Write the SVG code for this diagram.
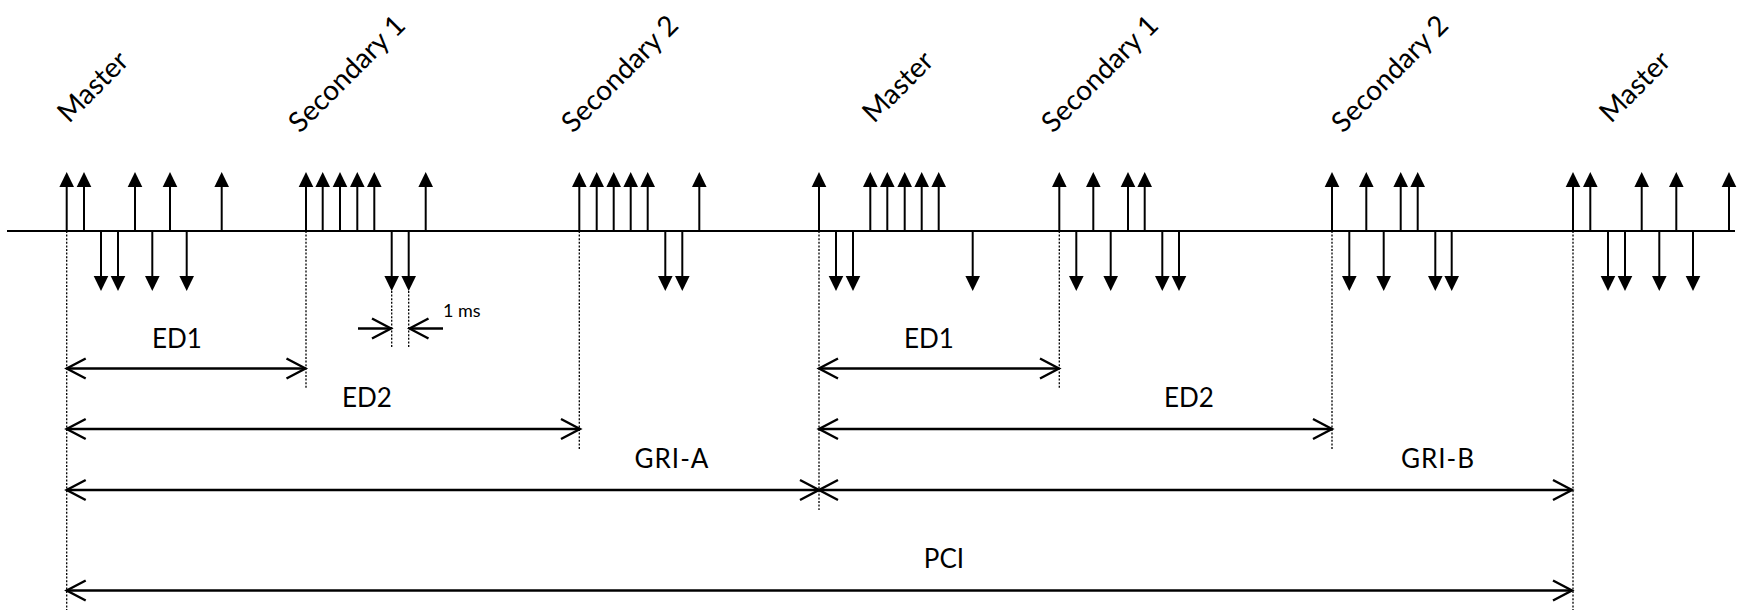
<svg xmlns="http://www.w3.org/2000/svg" xmlns:xlink="http://www.w3.org/1999/xlink" width="1742" height="612" viewBox="0 0 1742 612">
<style>
.axis{stroke:#000;stroke-width:2;fill:none}
.dot{stroke:#000;stroke-width:1.3;stroke-dasharray:2 1.6;fill:none}
.dim{stroke:#000;stroke-width:2.4;fill:none;marker-start:url(#open);marker-end:url(#open)}
.one{stroke:#000;stroke-width:2.4;fill:none;marker-end:url(#open)}
.lbl{font-family:Lato,"Liberation Sans",sans-serif;font-size:26px;fill:#000}
.st{font-family:Lato,"Liberation Sans",sans-serif;font-size:28px;fill:#000}
.sm{font-family:Lato,"Liberation Sans",sans-serif;font-size:18px;fill:#000}
</style>
<defs>
<marker id="open" markerUnits="userSpaceOnUse" markerWidth="24" markerHeight="24" viewBox="-2 -2 24 24" refX="19" refY="10" orient="auto-start-reverse">
<path d="M0,0 L19,10 L0,20" fill="none" stroke="#000" stroke-width="2.4"/>
</marker>
<g id="up"><line x1="0" y1="231" x2="0" y2="186" stroke="#000" stroke-width="2"/><polygon points="0,172 -7.3,187 7.3,187" fill="#000"/></g>
<g id="dn"><line x1="0" y1="231" x2="0" y2="277" stroke="#000" stroke-width="2"/><polygon points="0,291 -7.3,276 7.3,276" fill="#000"/></g>
</defs>
<rect width="1742" height="612" fill="#fff"/>

<g id="labels">
<text class="st" transform="translate(69,124) rotate(-45)">Master</text>
<text class="st" transform="translate(300,134) rotate(-45)">Secondary 1</text>
<text class="st" transform="translate(573,134) rotate(-45)">Secondary 2</text>
<text class="st" transform="translate(874,124) rotate(-45)">Master</text>
<text class="st" transform="translate(1053,134) rotate(-45)">Secondary 1</text>
<text class="st" transform="translate(1343,134) rotate(-45)">Secondary 2</text>
<text class="st" transform="translate(1611,124) rotate(-45)">Master</text>
</g>

<g id="dotted">
<line class="dot" x1="66.7" y1="231" x2="66.7" y2="610"/>
<line class="dot" x1="306" y1="231" x2="306" y2="388"/>
<line class="dot" x1="579.3" y1="231" x2="579.3" y2="449"/>
<line class="dot" x1="819" y1="231" x2="819" y2="510"/>
<line class="dot" x1="1059.3" y1="231" x2="1059.3" y2="388"/>
<line class="dot" x1="1332" y1="231" x2="1332" y2="449"/>
<line class="dot" x1="1573" y1="231" x2="1573" y2="610"/>
<line class="dot" x1="391.7" y1="291" x2="391.7" y2="348"/>
<line class="dot" x1="408.7" y1="291" x2="408.7" y2="348"/>
</g>

<g id="axis"><line class="axis" x1="7" y1="231" x2="1735" y2="231"/></g>

<g id="master1">
<use xlink:href="#up" x="66.7"/><use xlink:href="#up" x="84"/><use xlink:href="#up" x="135"/><use xlink:href="#up" x="170"/><use xlink:href="#up" x="221.7"/>
<use xlink:href="#dn" x="101"/><use xlink:href="#dn" x="118"/><use xlink:href="#dn" x="152.3"/><use xlink:href="#dn" x="186.7"/>
</g>
<g id="secondary1">
<use xlink:href="#up" x="306"/><use xlink:href="#up" x="322.7"/><use xlink:href="#up" x="340"/><use xlink:href="#up" x="357.3"/><use xlink:href="#up" x="374.3"/><use xlink:href="#up" x="425.7"/>
<use xlink:href="#dn" x="391.7"/><use xlink:href="#dn" x="408.7"/>
</g>
<g id="secondary2">
<use xlink:href="#up" x="579.3"/><use xlink:href="#up" x="596.7"/><use xlink:href="#up" x="613.7"/><use xlink:href="#up" x="630.7"/><use xlink:href="#up" x="647.7"/><use xlink:href="#up" x="699.3"/>
<use xlink:href="#dn" x="665.3"/><use xlink:href="#dn" x="682.3"/>
</g>
<g id="master2">
<use xlink:href="#up" x="819"/><use xlink:href="#up" x="870.3"/><use xlink:href="#up" x="887.3"/><use xlink:href="#up" x="904.7"/><use xlink:href="#up" x="921.7"/><use xlink:href="#up" x="938.7"/>
<use xlink:href="#dn" x="836"/><use xlink:href="#dn" x="853"/><use xlink:href="#dn" x="972.7"/>
</g>
<g id="secondary1b">
<use xlink:href="#up" x="1059.3"/><use xlink:href="#up" x="1093.3"/><use xlink:href="#up" x="1128"/><use xlink:href="#up" x="1144.7"/>
<use xlink:href="#dn" x="1076.3"/><use xlink:href="#dn" x="1110.7"/><use xlink:href="#dn" x="1162.3"/><use xlink:href="#dn" x="1179"/>
</g>
<g id="secondary2b">
<use xlink:href="#up" x="1332"/><use xlink:href="#up" x="1366.3"/><use xlink:href="#up" x="1400.7"/><use xlink:href="#up" x="1417.7"/>
<use xlink:href="#dn" x="1349.3"/><use xlink:href="#dn" x="1383.7"/><use xlink:href="#dn" x="1435.3"/><use xlink:href="#dn" x="1451.7"/>
</g>
<g id="master3">
<use xlink:href="#up" x="1573"/><use xlink:href="#up" x="1590.3"/><use xlink:href="#up" x="1641.7"/><use xlink:href="#up" x="1676.3"/><use xlink:href="#up" x="1729"/>
<use xlink:href="#dn" x="1608"/><use xlink:href="#dn" x="1625"/><use xlink:href="#dn" x="1659.3"/><use xlink:href="#dn" x="1693"/>
</g>

<g id="connectors">
<line class="one" x1="358" y1="328.5" x2="391" y2="328.5"/>
<line class="one" x1="443" y1="328.5" x2="409.5" y2="328.5"/>
<line class="dim" x1="66.7" y1="368.5" x2="305.5" y2="368.5"/>
<line class="dim" x1="66.7" y1="429" x2="580" y2="429"/>
<line class="dim" x1="66.7" y1="490" x2="819" y2="490"/>
<line class="dim" x1="819" y1="368.5" x2="1059" y2="368.5"/>
<line class="dim" x1="819" y1="429" x2="1332" y2="429"/>
<line class="dim" x1="819" y1="490" x2="1572" y2="490"/>
<line class="dim" x1="66.7" y1="590.5" x2="1572" y2="590.5"/>
</g>

<g id="dimlabels">
<text class="sm" x="443" y="317">1 ms</text>
<text class="lbl" x="177" y="348" text-anchor="middle">ED1</text>
<text class="lbl" x="367" y="407" text-anchor="middle">ED2</text>
<text class="lbl" x="672" y="468" text-anchor="middle" letter-spacing="1">GRI-A</text>
<text class="lbl" x="929" y="348" text-anchor="middle">ED1</text>
<text class="lbl" x="1189" y="407" text-anchor="middle">ED2</text>
<text class="lbl" x="1438" y="468" text-anchor="middle" letter-spacing="1">GRI-B</text>
<text class="lbl" x="944" y="568" text-anchor="middle">PCI</text>
</g>
</svg>
